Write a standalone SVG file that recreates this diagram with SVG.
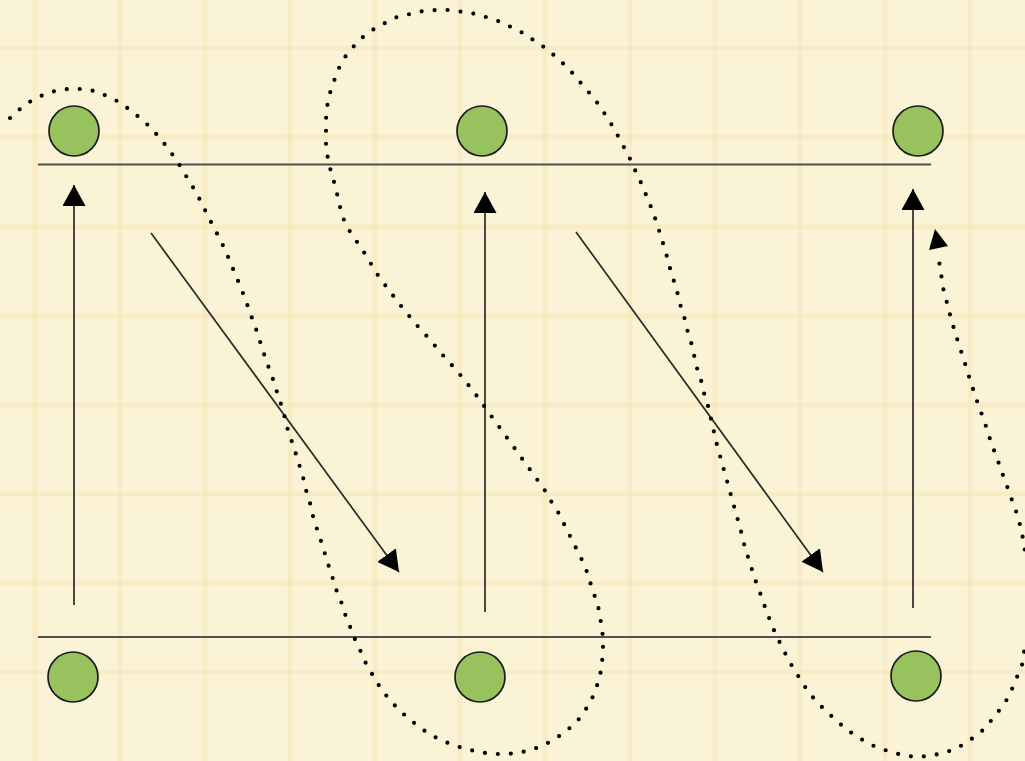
<svg xmlns="http://www.w3.org/2000/svg" width="1025" height="761" viewBox="0 0 1025 761">
<style>
.grid line{stroke:#f3dca6;stroke-width:5;opacity:0.28}
.node circle{fill:#97c25e;stroke:#1a1a1a;stroke-width:1.7}
.rail{stroke:#505050;stroke-width:2;fill:none}
.arrow{stroke:#2a2a2a;stroke-width:1.7;fill:none;marker-end:url(#head)}
.dots{stroke:#000;stroke-width:4.2;stroke-linecap:round;stroke-dasharray:0 13;fill:none;stroke-linejoin:round}
</style>
<defs>
<marker id="head" markerUnits="userSpaceOnUse" viewBox="0 0 21 23" refX="21" refY="11.5" markerWidth="21" markerHeight="23" orient="auto">
<path d="M0,0 L21,11.5 L0,23 z" fill="#000"/>
</marker>
</defs>
<rect width="1025" height="761" fill="#fbf3d5"/>
<g class="grid">
<line x1="35" y1="0" x2="35" y2="761"/><line x1="120" y1="0" x2="120" y2="761"/><line x1="205" y1="0" x2="205" y2="761"/><line x1="290" y1="0" x2="290" y2="761"/><line x1="375" y1="0" x2="375" y2="761"/><line x1="460" y1="0" x2="460" y2="761"/><line x1="545" y1="0" x2="545" y2="761"/><line x1="630" y1="0" x2="630" y2="761"/><line x1="715" y1="0" x2="715" y2="761"/><line x1="800" y1="0" x2="800" y2="761"/><line x1="885" y1="0" x2="885" y2="761"/><line x1="970" y1="0" x2="970" y2="761"/>
<line x1="0" y1="48" x2="1025" y2="48"/><line x1="0" y1="137" x2="1025" y2="137"/><line x1="0" y1="227" x2="1025" y2="227"/><line x1="0" y1="316" x2="1025" y2="316"/><line x1="0" y1="405" x2="1025" y2="405"/><line x1="0" y1="494" x2="1025" y2="494"/><line x1="0" y1="583" x2="1025" y2="583"/><line x1="0" y1="672" x2="1025" y2="672"/>
</g>
<g id="connectors">
<line class="rail" x1="38" y1="164.5" x2="931" y2="164.5"/>
<line class="rail" x1="38" y1="637" x2="931" y2="637"/>
<line class="arrow" x1="74" y1="605" x2="74" y2="185"/>
<line class="arrow" x1="485" y1="612" x2="485" y2="192"/>
<line class="arrow" x1="913" y1="608" x2="913" y2="189"/>
<line class="arrow" x1="151" y1="233" x2="399" y2="572"/>
<line class="arrow" x1="576" y1="232" x2="823" y2="572"/>
<polyline class="dots" points="10,118 20,109 31,101 43,95 55,91 68,89 82,89 95,91 107,96 119,102 130,110 140,118 150,127 159,137 167,147 175,158 182,169 189,181 196,192 202,204 208,216 214,228 220,239 226,252 231,264 236,276 241,288 246,301 250,313 255,326 259,338 263,351 267,363 272,376 276,389 280,401 284,414 287,427 291,439 295,451 299,464 303,477 306,490 310,503 313,516 317,529 321,541 325,554 329,567 333,579 337,592 342,604 346,617 351,629 356,642 362,654 367,666 374,677 381,689 389,699 398,709 408,718 418,726 429,734 441,740 453,745 466,749 479,752 492,754 505,754 518,753 531,750 544,745 555,739 566,731 576,723 584,712 591,701 596,689 600,676 602,663 603,650 603,637 601,623 599,610 595,597 591,585 587,572 582,560 576,548 570,536 564,524 558,512 551,501 544,489 474,392 466,382 458,372 449,362 440,352 432,342 423,332 414,322 406,312 397,301 389,290 381,280 374,269 367,257 360,246 352,235 345,223 341,211 338,198 335,185 331,172 328,159 326,146 326,133 326,119 327,107 330,93 334,81 339,68 345,57 354,46 363,37 374,29 385,23 397,17 410,14 423,11 437,10 450,10 463,12 476,14 489,18 501,22 513,28 525,34 536,42 547,49 557,58 567,67 576,77 584,87 593,97 601,108 608,119 615,130 621,142 628,154 633,166 639,178 644,190 649,202 654,215 658,227 662,240 666,253 669,265 673,278 677,291 680,304 684,316 687,329 691,342 694,355 697,368 701,380 704,393 708,406 711,419 714,432 717,445 742,535 745,548 749,560 753,573 757,585 762,598 766,610 771,623 776,635 782,647 788,659 795,671 802,682 809,693 818,703 827,712 837,721 847,730 858,737 869,744 882,749 894,753 907,756 920,757 934,755 947,752 959,747 970,740 981,732 990,722 998,712 1006,701 1012,689 1017,677 1022,665 1024,652 1028,639 1031,626 1032,613 1033,600 1032,587 1030,573 1027,560 1024,546 1022,533 1019,521 1015,508 1010,495 1006,483 1001,470 997,458 992,445 988,433 984,420 979,407 975,395 971,383 967,370 963,357 959,345 955,332 951,319 948,306 944,293 942,280 940,267 938,254"/>
<polygon points="935,229 929,250 948,246" fill="#000"/>
</g>
<g id="n-top-left" class="node"><circle cx="74" cy="131" r="25"/></g>
<g id="n-top-mid" class="node"><circle cx="482" cy="131" r="25"/></g>
<g id="n-top-right" class="node"><circle cx="918" cy="131" r="25"/></g>
<g id="n-bot-left" class="node"><circle cx="73" cy="677" r="25"/></g>
<g id="n-bot-mid" class="node"><circle cx="480" cy="677" r="25"/></g>
<g id="n-bot-right" class="node"><circle cx="916" cy="676" r="25"/></g>
</svg>
